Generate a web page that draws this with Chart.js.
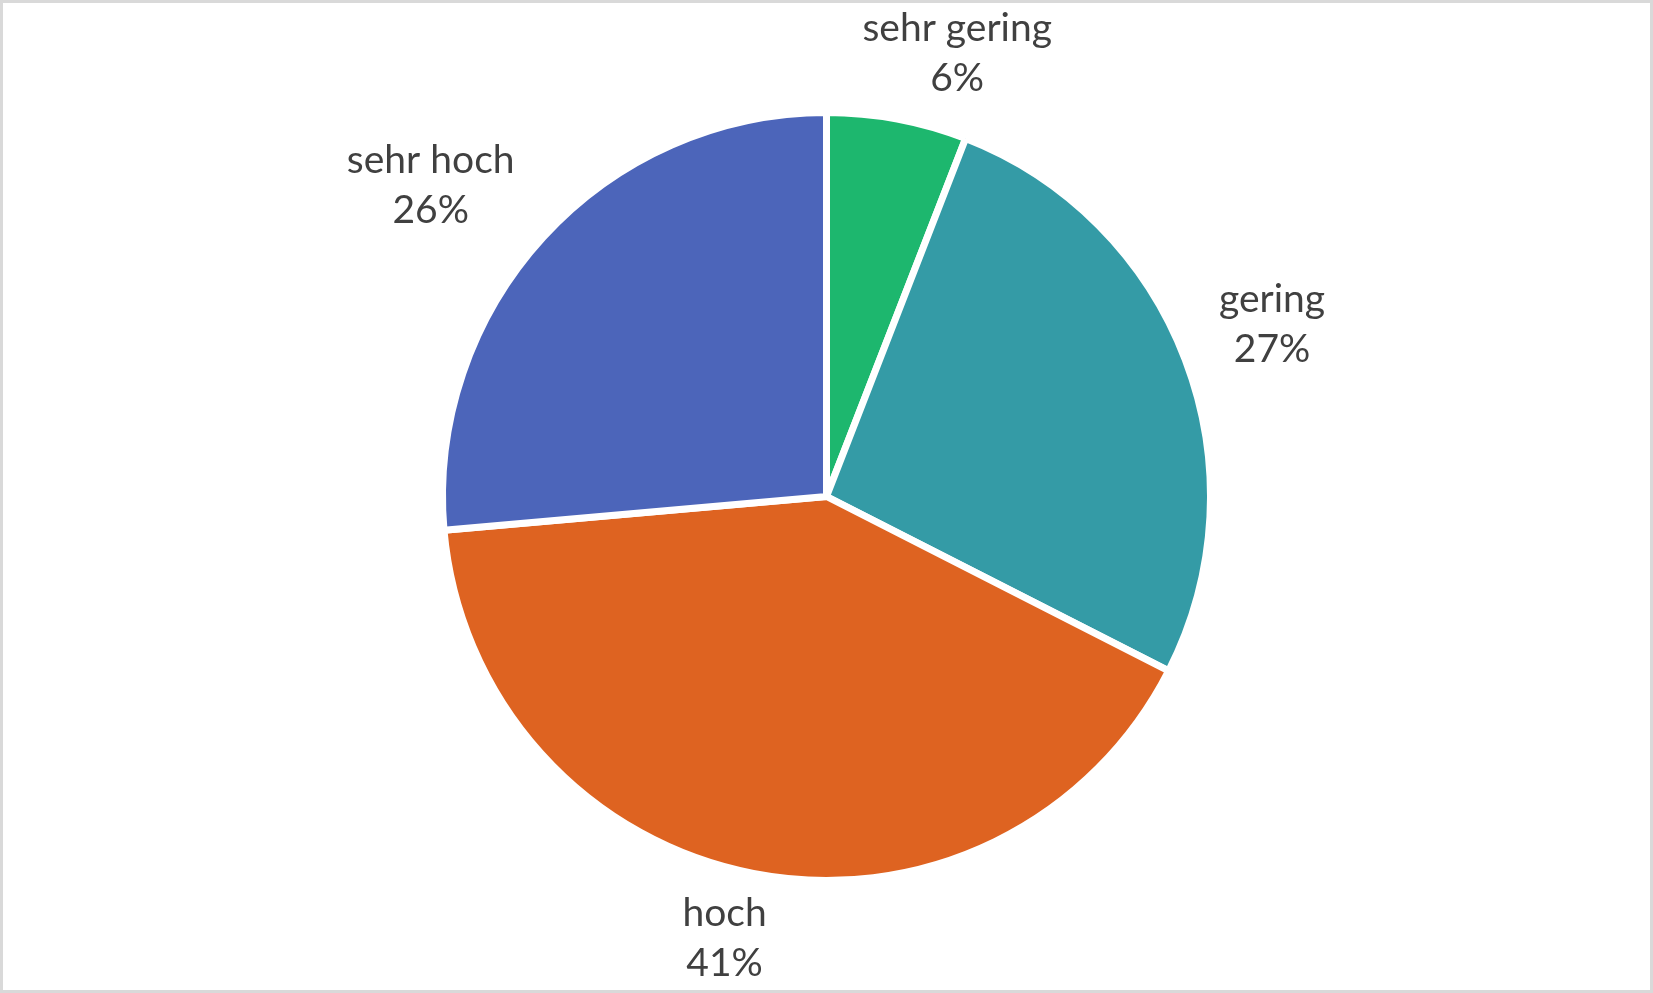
<!DOCTYPE html>
<html>
<head>
<meta charset="utf-8">
<script src="https://cdn.jsdelivr.net/npm/chart.js@4"></script>
<style>
  html, body { margin: 0; padding: 0; background: #fff; }
  #wrap { width: 1647px; height: 987px; border: 3px solid #d9d9d9; }
  canvas { display: block; }
</style>
</head>
<body>
<div id="wrap"><canvas id="pie" width="1647" height="987"></canvas></div>
<script>
  const categories = ['sehr gering', 'gering', 'hoch', 'sehr hoch'];
  const shares = [5.9, 26.6, 41.1, 26.4];
  const colors = ['#1db76e', '#349ba6', '#de6321', '#4c65ba'];

  // Beschriftung ausserhalb der Segmente (Name + Prozent)
  const outsideLabels = {
    id: 'outsideLabels',
    afterDatasetsDraw(chart) {
      const ctx = chart.ctx;
      const meta = chart.getDatasetMeta(0);
      const total = shares.reduce((a, b) => a + b, 0);
      const lineH = 50;
      const soft = (v) => Math.sign(v) * Math.sqrt(Math.abs(v));
      ctx.save();
      ctx.font = '39px Lato';
      ctx.fillStyle = '#404040';
      ctx.textAlign = 'center';
      ctx.textBaseline = 'middle';
      meta.data.forEach((arc, i) => {
        const { x, y, startAngle, endAngle, outerRadius } = arc.getProps(['x', 'y', 'startAngle', 'endAngle', 'outerRadius'], true);
        const mid = (startAngle + endAngle) / 2;
        const pct = Math.round(shares[i] / total * 100) + '%';
        const w = Math.max(ctx.measureText(categories[i]).width, ctx.measureText(pct).width);
        const h = lineH * 2;
        const r = outerRadius + 16;
        const cx = x + Math.cos(mid) * r + soft(Math.cos(mid)) * w / 2 * 1.4;
        const cy = y + Math.sin(mid) * r + soft(Math.sin(mid)) * h / 2;
        ctx.fillText(categories[i], cx, cy - lineH / 2);
        ctx.fillText(pct, cx, cy + lineH / 2);
      });
      ctx.restore();
    }
  };

  new Chart(document.getElementById('pie'), {
    type: 'pie',
    data: {
      labels: categories,
      datasets: [{
        data: shares,
        backgroundColor: colors,
        borderColor: '#ffffff',
        borderWidth: 7
      }]
    },
    options: {
      responsive: false,
      animation: false,
      radius: 384,
      layout: { padding: 0 },
      plugins: {
        legend: { display: false },
        tooltip: { enabled: false }
      }
    },
    plugins: [outsideLabels]
  });
</script>
</body>
</html>
